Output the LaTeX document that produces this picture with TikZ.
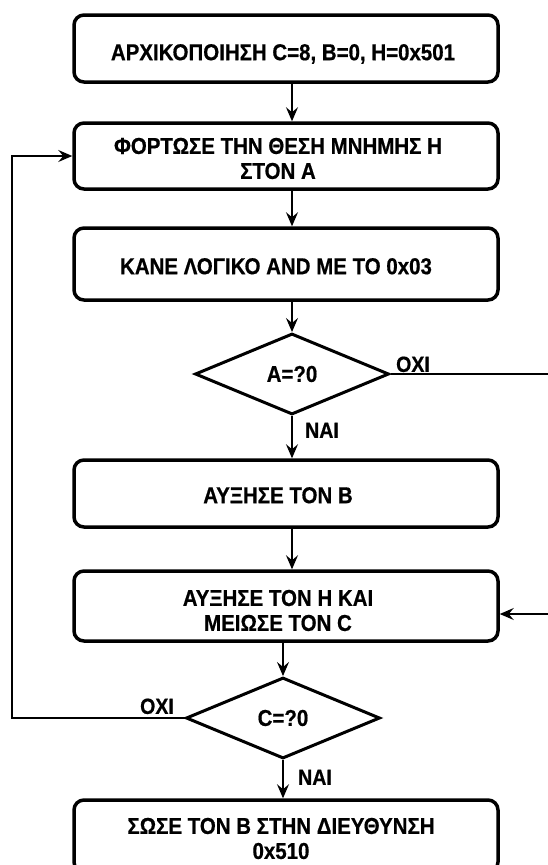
\documentclass[tikz,border=0pt]{standalone}
\usepackage{fontspec}
\setmainfont{Liberation Sans}
\newfontfamily\flowfont{Liberation Sans}[FakeStretch=0.89, FakeBold=0.6]
\usetikzlibrary{arrows.meta,shapes.geometric}
\begin{document}
\begin{tikzpicture}[x=1pt,y=-1pt,
  procbox/.style={draw, line width=3.5pt, rounded corners=10pt, minimum width=424pt, inner sep=0pt},
  boxtext/.style={font=\flowfont\bfseries\fontsize{23}{25}\selectfont, inner sep=0pt, text height=16.4pt, text depth=0pt},
  boxtexttwo/.style={font=\flowfont\bfseries\fontsize{23}{25}\selectfont, inner sep=0pt, align=center},
  decision/.style={draw, diamond, line width=3pt, minimum width=194pt, minimum height=81pt, inner sep=0pt,
    font=\flowfont\bfseries\fontsize{23}{25}\selectfont},
  flowlabel/.style={font=\flowfont\bfseries\fontsize{22}{24}\selectfont, inner sep=0pt, text height=15.8pt, text depth=0pt},
  arr/.style={line width=1.3pt, -{Stealth[length=14pt,width=12pt,inset=5pt]}},
  plainline/.style={line width=1.3pt}]

\useasboundingbox (0,0) rectangle (548,865);
\fill[white] (0,0) rectangle (548,865);
\clip (0,0) rectangle (548,865);

% process boxes
\node[procbox, minimum height=67pt] (b1) at (286,48.5) {};
\node[procbox, minimum height=66pt] (b2) at (286,156) {};
\node[procbox, minimum height=72pt] (b3) at (286,264) {};
\node[procbox, minimum height=67pt] (b4) at (286,493.5) {};
\node[procbox, minimum height=70pt] (b5) at (286,606) {};
\node[procbox, minimum height=72pt] (b6) at (286,836) {};

% box texts
\node[boxtext] (t1) at (283,52) {ΑΡΧΙΚΟΠΟΙΗΣΗ C=8, B=0, H=0x501};
\node[boxtexttwo] (t2) at (278,158.5) {ΦΟΡΤΩΣΕ ΤΗΝ ΘΕΣΗ ΜΝΗΜΗΣ Η\\ΣΤΟΝ Α};
\node[boxtext] (t3) at (276,266) {ΚΑΝΕ ΛΟΓΙΚΟ AND ΜΕ ΤΟ 0x03};
\node[boxtext] (t4) at (278,495) {ΑΥΞΗΣΕ ΤΟΝ Β};
\node[boxtexttwo] (t5) at (278,610.5) {ΑΥΞΗΣΕ ΤΟΝ Η ΚΑΙ\\ΜΕΙΩΣΕ ΤΟΝ C};
\node[boxtexttwo] (t6) at (281,838.5) {ΣΩΣΕ ΤΟΝ Β ΣΤΗΝ ΔΙΕΥΘΥΝΣΗ\\0x510};

% decisions
\node[decision] (d1) at (292,374) {A=?0};
\node[decision] (d2) at (283,718) {C=?0};

% branch labels
\node[flowlabel] (no1) at (413,364) {ΟΧΙ};
\node[flowlabel] (yes1) at (322,430) {ΝΑΙ};
\node[flowlabel] (no2) at (157,706) {ΟΧΙ};
\node[flowlabel] (yes2) at (315,777) {ΝΑΙ};

% main flow
\draw[arr] (b1.south -| d1.north) -- (b2.north -| d1.north);
\draw[arr] (b2.south -| d1.north) -- (b3.north -| d1.north);
\draw[arr] (b3.south -| d1.north) -- (d1.north);
\draw[arr] (d1.south) -- (b4.north -| d1.south);
\draw[arr] (b4.south -| d1.north) -- (b5.north -| d1.north);
\draw[arr] (b5.south -| d2.north) -- (d2.north);
\draw[arr] (d2.south) -- (b6.north -| d2.south);

% side branches
\coordinate (r1) at (548,374);
\draw[plainline] (d1.east) -- (r1);
\coordinate (r2) at (548,614);
\draw[arr] (r2) -- (b5.east |- r2);
\coordinate (l1) at (12,718);
\draw[arr] (d2.west) -- (l1) |- (b2.west);

\end{tikzpicture}
\end{document}
